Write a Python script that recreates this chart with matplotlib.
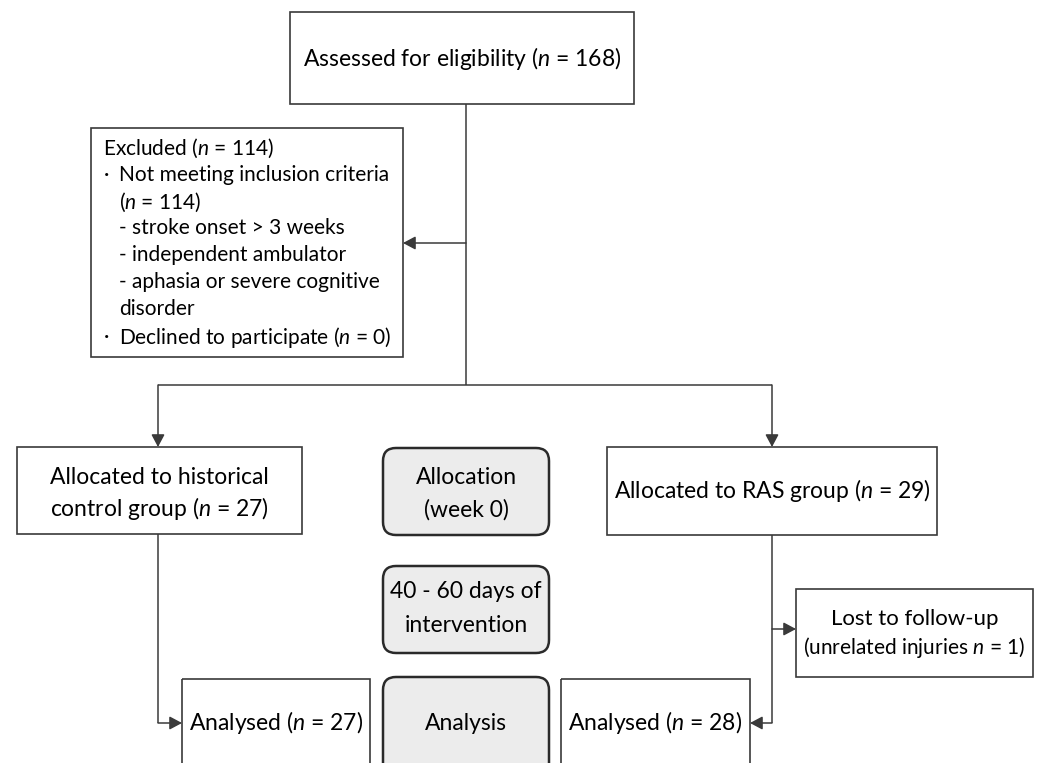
import matplotlib
matplotlib.use("Agg")
import matplotlib.pyplot as plt
from matplotlib.patches import Rectangle, FancyBboxPatch

plt.rcParams['font.family'] = ['Lato', 'DejaVu Sans']
plt.rcParams['mathtext.fontset'] = 'custom'
plt.rcParams['mathtext.rm'] = 'Lato'
plt.rcParams['mathtext.it'] = 'Lato:italic'

# ---- data (counts) ----
n_assessed = 168
n_excluded = 114
n_not_meeting = 114
n_declined = 0
n_control = 27
n_ras = 29
n_lost = 1
n_analysed_control = 27
n_analysed_ras = 28

exclusion_reasons = ["- stroke onset > 3 weeks",
                     "- independent ambulator",
                     "- aphasia or severe cognitive",
                     "disorder"]
phases = [["Allocation", "(week 0)"],
          ["40 - 60 days of", "intervention"],
          ["Analysis"]]

W, H = 1038, 763
fig = plt.figure(figsize=(W / 100, H / 100), dpi=100)
ax = fig.add_axes([0, 0, 1, 1])
ax.set_xlim(0, W)
ax.set_ylim(H, 0)
ax.axis('off')

EC = '#3a3a3a'
LC = '#3a3a3a'
FS = 16.5
FS_EX = 15.0


def box(x0, y0, x1, y1):
    ax.add_patch(Rectangle((x0, y0), x1 - x0, y1 - y0, fill=False,
                           ec=EC, lw=1.2, clip_on=True))


def rbox(x0, y0, x1, y1):
    ax.add_patch(FancyBboxPatch((x0, y0), x1 - x0, y1 - y0,
                                boxstyle="round,pad=0,rounding_size=13",
                                fc='#ececec', ec='#2a2a2a', lw=1.8, clip_on=True))


def line(xs, ys):
    ax.plot(xs, ys, color=LC, lw=1.1, solid_capstyle='butt')


def arrow(x0, y0, x1, y1):
    ax.annotate('', xy=(x1, y1), xytext=(x0, y0),
                arrowprops=dict(arrowstyle='-|>,head_length=0.75,head_width=0.4',
                                color=LC, lw=1.1, shrinkA=0, shrinkB=0,
                                mutation_scale=10))


def txt(x, y, s, ha='center', fs=FS):
    ax.text(x, y, s, ha=ha, va='center', fontsize=fs, color='black')


# top box
box(290, 12, 634, 104)
txt(462, 58, f"Assessed for eligibility ($n$ = {n_assessed})")

# excluded box
box(91, 128, 403, 357)
lx, bx, ix = 103, 104, 119
txt(lx, 148, f"Excluded ($n$ = {n_excluded})", ha='left', fs=FS_EX)
txt(bx, 175, "·", ha='left', fs=FS_EX)
txt(ix, 175, "Not meeting inclusion criteria", ha='left', fs=FS_EX)
txt(ix, 202, f"($n$ = {n_not_meeting})", ha='left', fs=FS_EX)
for i, r in enumerate(exclusion_reasons):
    txt(ix, 228 + i * 27, r, ha='left', fs=FS_EX)
txt(bx, 337, "·", ha='left', fs=FS_EX)
txt(ix, 337, f"Declined to participate ($n$ = {n_declined})", ha='left', fs=FS_EX)

# main trunk
line([466, 466], [104, 385])
arrow(466, 243, 403, 243)
line([158, 772], [385, 385])
arrow(158, 385, 158, 447)
arrow(772, 385, 772, 447)

# allocation boxes
box(17, 447, 302, 534)
txt(159.5, 477, "Allocated to historical")
txt(159.5, 508, f"control group ($n$ = {n_control})")
box(607, 447, 937, 535)
txt(772, 491, f"Allocated to RAS group ($n$ = {n_ras})")

# phase boxes
rbox(383, 448, 549, 535)
txt(466, 477, phases[0][0])
txt(466, 510, phases[0][1])
rbox(383, 566, 549, 653)
txt(466, 592, phases[1][0])
txt(466, 625, phases[1][1])
rbox(383, 677, 549, 800)
txt(466, 723, phases[2][0])

# lost to follow-up
box(796, 589, 1033, 677)
txt(914.5, 619, "Lost to follow-up", fs=16.0)
txt(914.5, 647, f"(unrelated injuries $n$ = {n_lost})", fs=15.0)

# left path
line([158, 158], [534, 723])
arrow(158, 723, 182, 723)
# right path
line([772, 772], [535, 723])
arrow(772, 629, 796, 629)
arrow(772, 723, 750, 723)

# analysed boxes
box(182, 679, 370, 800)
txt(276, 723, f"Analysed ($n$ = {n_analysed_control})")
box(561, 679, 750, 800)
txt(655.5, 723, f"Analysed ($n$ = {n_analysed_ras})")

fig.savefig('out.png', dpi=100)
